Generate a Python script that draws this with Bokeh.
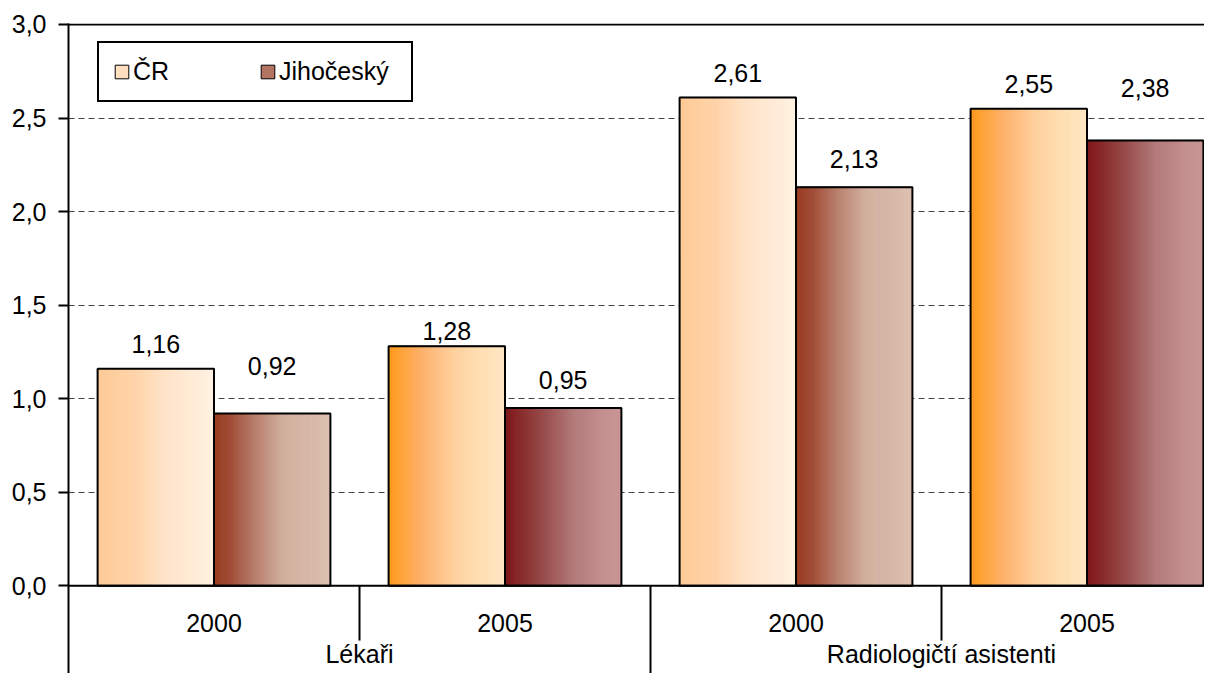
import numpy as np
from bokeh.plotting import figure
from bokeh.models import ColumnDataSource, Range1d, FixedTicker, Span, Legend, LegendItem
from bokeh.core.properties import value
from bokeh.embed import file_html
from bokeh.resources import INLINE

# ---------------- data ----------------
groups = ["Lékaři", "Radiologičtí asistenti"]
years = ["2000", "2005"]
series = ["ČR", "Jihočeský"]
cr_values = [1.16, 1.28, 2.61, 2.55]
jiho_values = [0.92, 0.95, 2.13, 2.38]
y_ticks = [0.0, 0.5, 1.0, 1.5, 2.0, 2.5, 3.0]
y_tick_labels = ["0,0", "0,5", "1,0", "1,5", "2,0", "2,5", "3,0"]

# ---------------- styles ----------------
FONT = "Liberation Sans"
FS = "25px"
W, H = 1204, 673
ML, MT = 68, 23
GROUP_PX = 291.0          # pixel width of one category slot
PLOT_PX = 562.0           # pixel height of 0..3
BAR_PAD, BAR_W = 0.1, 0.4
N_STRIPS = 60

gradients = {
    ("ČR", "2000"): [(0.0, "#FECA96"), (0.3, "#FFD3A8"), (0.6, "#FFE4CA"), (1.0, "#FFF1E2")],
    ("ČR", "2005"): [(0.0, "#FF9A1A"), (0.3, "#FDB26E"), (0.55, "#FFCF9C"), (0.8, "#FFE0B4"), (1.0, "#FFE7C3")],
    ("Jihočeský", "2000"): [(0.0, "#983A1F"), (0.15, "#A24E38"), (0.35, "#B87E6C"), (0.6, "#D2B09F"), (1.0, "#DCC0B0")],
    ("Jihočeský", "2005"): [(0.0, "#7E1518"), (0.3, "#954646"), (0.6, "#B37B7B"), (0.85, "#C49090"), (1.0, "#C99696")],
}
legend_colors = {"ČR": "#FFDFC0", "Jihočeský": "#B47464"}
label_lift = {"ČR": [25, 15, 24.5, 25], "Jihočeský": [48, 28, 28, 52]}


def hex2rgb(h):
    h = h.lstrip("#")
    return np.array([int(h[i:i + 2], 16) for i in (0, 2, 4)], dtype=float)


def grad_color(stops, t):
    ts = [s[0] for s in stops]
    cs = [hex2rgb(s[1]) for s in stops]
    for k in range(len(ts) - 1):
        if ts[k] <= t <= ts[k + 1]:
            f = (t - ts[k]) / (ts[k + 1] - ts[k])
            c = cs[k] + f * (cs[k + 1] - cs[k])
            return "#%02x%02x%02x" % tuple(int(round(v)) for v in c)
    return stops[-1][1]


cats = [(g, y) for g in groups for y in years]
n = len(cats)
ypu = PLOT_PX / 3.0
frame_w = W - ML
frame_h = H - MT
x_end = frame_w / GROUP_PX
y_start = -(frame_h - PLOT_PX) / ypu
y_end = 3.0 + 1.0 / ypu

p = figure(width=W, height=H, x_range=Range1d(0, x_end), y_range=Range1d(y_start, y_end),
           output_backend="svg", toolbar_location=None, tools="", x_axis_location=None,
           min_border_left=ML, min_border_right=0, min_border_top=MT, min_border_bottom=0)
p.outline_line_color = None
p.background_fill_color = "white"
p.border_fill_color = "white"
p.xgrid.visible = False
p.ygrid.ticker = FixedTicker(ticks=[t for t in y_ticks if 0 < t < 3])
p.ygrid.grid_line_color = "#444444"
p.ygrid.grid_line_dash = "6 4"
p.ygrid.grid_line_width = 1

ax = p.yaxis[0]
ax.ticker = FixedTicker(ticks=y_ticks)
ax.major_label_overrides = {t: l for t, l in zip(y_ticks, y_tick_labels)}
ax.major_label_text_font = FONT
ax.major_label_text_font_size = FS
ax.major_label_text_color = "black"
ax.major_tick_out = 10
ax.major_tick_in = 0
ax.minor_tick_line_color = None
ax.major_tick_line_width = 2
ax.axis_line_width = 2
ax.axis_line_color = "black"
ax.major_label_standoff = 12

# bars
base_renderers = {}
for s_i, (sname, vals) in enumerate(zip(series, [cr_values, jiho_values])):
    lefts = [i + BAR_PAD + s_i * BAR_W for i in range(n)]
    rights = [l + BAR_W for l in lefts]
    base = p.quad(left=lefts, right=rights, bottom=0, top=vals,
                  fill_color=legend_colors[sname], line_color="black", line_width=1)
    base_renderers[sname] = base
    sl, sr, st, sc = [], [], [], []
    for i in range(n):
        stops = gradients[(sname, cats[i][1])]
        for k in range(N_STRIPS):
            sl.append(lefts[i] + k * BAR_W / N_STRIPS)
            sr.append(lefts[i] + (k + 1) * BAR_W / N_STRIPS)
            st.append(vals[i])
            sc.append(grad_color(stops, (k + 0.5) / N_STRIPS))
    src = ColumnDataSource(dict(left=sl, right=sr, top=st, color=sc))
    p.quad(left="left", right="right", bottom=0, top="top", source=src,
           fill_color="color", line_color="color", line_width=1)
    p.quad(left=lefts, right=rights, bottom=0, top=vals,
           fill_color=None, line_color="black", line_width=2)
    centers = [(l + r) / 2 for l, r in zip(lefts, rights)]
    p.text(x=centers, y=vals, text=[f"{v:.2f}".replace(".", ",") for v in vals],
           y_offset=[-o for o in label_lift[sname]],
           text_font=value(FONT), text_font_size=FS, text_color="black",
           text_align="center", text_baseline="middle")

# top border and category axis line
p.add_layout(Span(location=3.0, dimension="width", line_color="black", line_width=2))
p.add_layout(Span(location=0.0, dimension="width", line_color="black", line_width=2))

# category separators
year_bounds = [g * len(years) + k for g in range(len(groups)) for k in range(1, len(years))]
group_bounds = [g * len(years) for g in range(1, len(groups))]
sep_len = 55 / ypu
p.segment(x0=year_bounds, y0=0, x1=year_bounds, y1=-sep_len, line_color="black", line_width=2)
p.segment(x0=group_bounds, y0=0, x1=group_bounds, y1=y_start, line_color="black", line_width=2)

# category labels
p.text(x=[i + 0.5 for i in range(n)], y=0, text=[c[1] for c in cats], y_offset=37,
       text_font=value(FONT), text_font_size=FS, text_color="black",
       text_align="center", text_baseline="middle")
p.text(x=[g * len(years) + len(years) / 2 for g in range(len(groups))], y=0, text=groups,
       y_offset=68, text_font=value(FONT), text_font_size=FS, text_color="black",
       text_align="center", text_baseline="middle")

legend = Legend(items=[LegendItem(label=s, renderers=[base_renderers[s]]) for s in series],
                location=(29, frame_h - 79), orientation="horizontal",
                label_text_font=FONT, label_text_font_size=FS, label_text_color="black",
                glyph_width=17, glyph_height=17, label_standoff=3, label_width=118,
                label_height=24, spacing=8, padding=14, margin=0,
                border_line_color="black", border_line_width=2, border_line_alpha=1.0,
                background_fill_color="white", background_fill_alpha=1.0)
p.add_layout(legend)

open("out.html", "w").write(file_html(p, INLINE))
